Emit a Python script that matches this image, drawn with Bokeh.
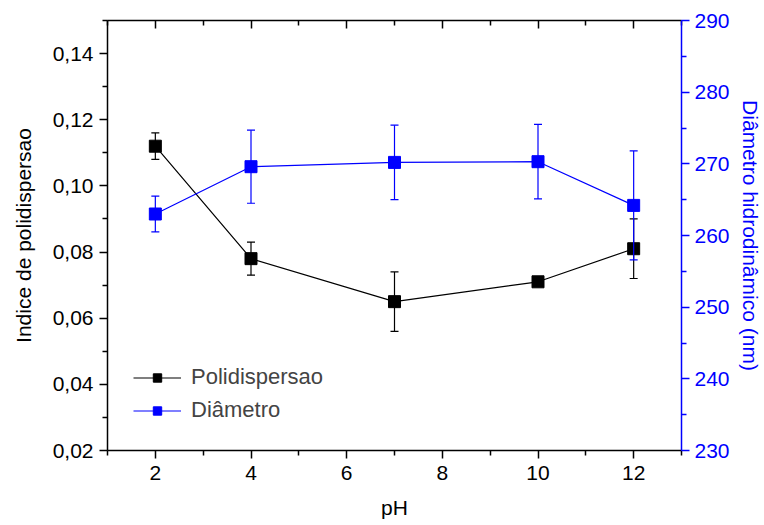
from bokeh.plotting import figure
from bokeh.models import (Range1d, LinearAxis, FixedTicker, CustomJSTickFormatter,
                          ColumnDataSource, Whisker, TeeHead, Legend, LegendItem)
from bokeh.embed import file_html
from bokeh.resources import INLINE

# ---- data ----
ph = [2, 4, 7, 10, 12]
pdi = [0.112, 0.078, 0.065, 0.071, 0.081]
pdi_err = [0.004, 0.005, 0.009, 0.0, 0.009]
diam = [263.0, 269.6, 270.2, 270.3, 264.2]
diam_err = [2.5, 5.1, 5.2, 5.2, 7.6]

x_ticks = [2, 4, 6, 8, 10, 12]
x_minor = [1, 3, 5, 7, 9, 11, 13]
left_ticks = [0.02, 0.04, 0.06, 0.08, 0.10, 0.12, 0.14]
left_minor = [0.03, 0.05, 0.07, 0.09, 0.11, 0.13, 0.15]
right_ticks = [230, 240, 250, 260, 270, 280, 290]
right_minor = [235, 245, 255, 265, 275, 285]

FONT = "Liberation Sans"
FS = "21px"
BLUE = "#0000ff"

src = ColumnDataSource(dict(
    ph=ph, pdi=pdi, diam=diam,
    pdi_lo=[v - e for v, e in zip(pdi, pdi_err)],
    pdi_hi=[v + e for v, e in zip(pdi, pdi_err)],
    d_lo=[v - e for v, e in zip(diam, diam_err)],
    d_hi=[v + e for v, e in zip(diam, diam_err)],
))

p = figure(width=764, height=525, x_range=Range1d(1, 13), y_range=Range1d(0.02, 0.15),
           output_backend="svg", toolbar_location=None,
           min_border_left=107, min_border_right=82, min_border_top=20, min_border_bottom=75)
p.extra_y_ranges = {"d": Range1d(230, 290)}
p.grid.visible = False
p.outline_line_color = None
p.background_fill_color = "white"

def style(ax, color="black"):
    ax.axis_line_color = color
    ax.axis_line_width = 1.5
    ax.major_tick_line_color = color
    ax.minor_tick_line_color = color
    ax.major_tick_line_width = 1.5
    ax.minor_tick_line_width = 1.5
    ax.major_tick_out = 8
    ax.major_tick_in = 0
    ax.minor_tick_out = 5
    ax.minor_tick_in = 0
    ax.major_label_text_font = FONT
    ax.major_label_text_font_size = FS
    ax.major_label_text_color = color
    ax.axis_label_text_font = FONT
    ax.axis_label_text_font_size = FS
    ax.axis_label_text_font_style = "normal"
    ax.axis_label_text_color = color

# bottom axis
xa = p.xaxis[0]
xa.ticker = FixedTicker(ticks=x_ticks, minor_ticks=x_minor)
xa.axis_label = "pH"
style(xa)
xa.major_label_standoff = 7
xa.axis_label_standoff = 13

# left axis
ya = p.yaxis[0]
ya.ticker = FixedTicker(ticks=left_ticks, minor_ticks=left_minor)
ya.formatter = CustomJSTickFormatter(code="return tick.toFixed(2).replace('.', ',');")
ya.axis_label = "Indice de polidispersao"
style(ya)
ya.major_label_standoff = 6
ya.axis_label_standoff = 15

# top axis (ticks inward, no labels)
top = LinearAxis(ticker=FixedTicker(ticks=x_ticks, minor_ticks=x_minor))
style(top)
top.major_tick_out = 0
top.major_tick_in = 8
top.minor_tick_out = 0
top.minor_tick_in = 5
top.major_label_text_font_size = "0px"
top.major_label_text_alpha = 0
p.add_layout(top, "above")

# right axis
ra = LinearAxis(y_range_name="d", ticker=FixedTicker(ticks=right_ticks, minor_ticks=right_minor),
                axis_label="Diâmetro hidrodinâmico (nm)")
style(ra, BLUE)
ra.major_label_standoff = 5
ra.axis_label_standoff = 6
p.add_layout(ra, "right")

# error bars
w1 = Whisker(source=src, base="ph", lower="pdi_lo", upper="pdi_hi", dimension="height",
             line_color="black", line_width=1.2, level="glyph",
             upper_head=TeeHead(size=8, line_color="black", line_width=1.2),
             lower_head=TeeHead(size=8, line_color="black", line_width=1.2))
w2 = Whisker(source=src, base="ph", lower="d_lo", upper="d_hi", dimension="height",
             y_range_name="d", line_color=BLUE, line_width=1.2, level="glyph",
             upper_head=TeeHead(size=8, line_color=BLUE, line_width=1.2),
             lower_head=TeeHead(size=8, line_color=BLUE, line_width=1.2))
p.add_layout(w1)
p.add_layout(w2)

l1 = p.line("ph", "pdi", source=src, line_color="black", line_width=1.2)
s1 = p.scatter("ph", "pdi", source=src, marker="square", size=12,
               fill_color="black", line_color="black")
l2 = p.line("ph", "diam", source=src, line_color=BLUE, line_width=1.2, y_range_name="d")
s2 = p.scatter("ph", "diam", source=src, marker="square", size=12,
               fill_color=BLUE, line_color=BLUE, y_range_name="d")

legend = Legend(items=[LegendItem(label="Polidispersao", renderers=[l1, s1]),
                       LegendItem(label="Diâmetro", renderers=[l2, s2])],
                location=(26, 27), border_line_color=None, background_fill_alpha=0,
                label_text_font=FONT, label_text_font_size="22px",
                glyph_width=48, glyph_height=21, label_height=21, spacing=7,
                label_standoff=10, padding=4, margin=0)
p.add_layout(legend, "center")

open("out.html", "w").write(file_html(p, INLINE))
